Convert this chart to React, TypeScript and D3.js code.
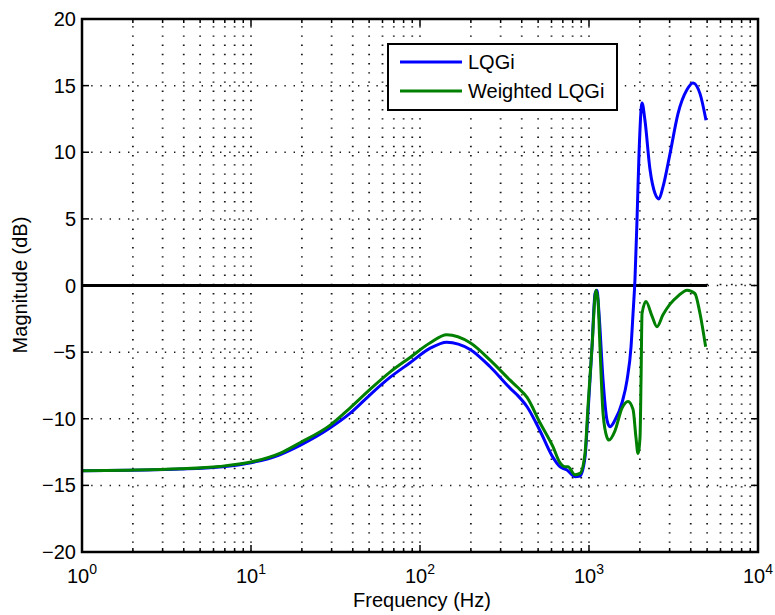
import React from "react";
import * as d3 from "d3";

const blueFreq = [1, 1.9, 3.8, 6.5, 10, 14.8, 19.5, 29.3, 38.5, 50.6, 66.4, 87.3, 115, 144, 198, 260, 341, 375, 430, 513, 612, 673, 741, 826, 885, 947, 986, 1042, 1086, 1115, 1146, 1211, 1278, 1331, 1425, 1568, 1679, 1773, 1822, 1870, 1923, 1977, 2060, 2143, 2296, 2459, 2594, 2740, 3016, 3363, 3803, 4125, 4537, 4925];
const blueDb = [-13.9, -13.87, -13.78, -13.62, -13.3, -12.7, -12.0, -10.7, -9.6, -8.2, -6.9, -5.8, -4.7, -4.25, -4.8, -6.1, -7.7, -8.2, -9.1, -10.9, -12.9, -13.6, -13.85, -14.35, -14.3, -12.9, -9.6, -4.6, -0.6, -0.35, -2.1, -7.1, -10.1, -10.6, -10.1, -8.8, -7.1, -4.6, -2.1, 0.4, 4.9, 9.9, 13.7, 12.4, 8.7, 6.9, 6.5, 7.4, 9.9, 12.9, 14.7, 15.2, 14.4, 12.4];

const greenFreq = [1, 1.9, 3.8, 6.5, 10, 14.8, 19.5, 29.3, 38.5, 50.6, 66.4, 87.3, 115, 144, 198, 260, 341, 375, 430, 513, 612, 673, 721, 751, 826, 885, 947, 986, 1042, 1099, 1130, 1161, 1211, 1278, 1313, 1425, 1568, 1702, 1822, 1896, 1949, 2004, 2032, 2060, 2173, 2360, 2525, 2740, 3016, 3363, 3803, 4230, 4537, 4900];
const greenDb = [-13.9, -13.86, -13.76, -13.58, -13.25, -12.6, -11.8, -10.5, -9.2, -7.8, -6.5, -5.4, -4.3, -3.7, -4.3, -5.6, -7.1, -7.6, -8.4, -10.3, -12.1, -13.3, -13.6, -13.6, -14.2, -14.1, -12.6, -9.1, -4.6, -0.35, -1.1, -4.6, -9.6, -11.4, -11.6, -10.9, -9.2, -8.7, -9.3, -11.4, -12.6, -11.4, -7.1, -2.1, -1.2, -2.3, -3.1, -2.2, -1.4, -0.8, -0.35, -0.6, -2.1, -4.6];

const zeroFreq = [1, 5000];
const zeroDb = [0, 0];

const xDecades = [1, 10, 100, 1000, 10000];
const xExponents = ["0", "1", "2", "3", "4"];
const yTicks = [-20, -15, -10, -5, 0, 5, 10, 15, 20];
const yTickLabels = ["\u221220", "\u221215", "\u221210", "\u22125", "0", "5", "10", "15", "20"];
const seriesNames = ["LQGi", "Weighted LQGi"];
const seriesColors = ["#0000ff", "#008000"];

const W = 775, H = 615;
const L = 82, R = 758, T = 19, B = 552;
const FONT = "'Liberation Sans', Arial, Helvetica, sans-serif";

export default function App() {
  const x = d3.scaleLog().domain([1, 10000]).range([L, R]);
  const y = d3.scaleLinear().domain([-20, 20]).range([B, T]);

  const minor: number[] = [];
  for (let d = 1; d < 10000; d *= 10) {
    for (let k = 2; k <= 9; k++) minor.push(d * k);
  }

  const line = d3
    .line<[number, number]>()
    .x((d) => x(d[0]))
    .y((d) => y(d[1]))
    .curve(d3.curveMonotoneX);

  const bluePts = blueFreq.map((f, i) => [f, blueDb[i]] as [number, number]);
  const greenPts = greenFreq.map((f, i) => [f, greenDb[i]] as [number, number]);
  const zeroPts = zeroFreq.map((f, i) => [f, zeroDb[i]] as [number, number]);

  const gridStyle = { stroke: "#000", strokeDasharray: "1.4,7.8", opacity: 0.9 };

  return (
    <svg width={W} height={H} style={{ position: "absolute", left: 0, top: 0, background: "#fff" }} fontFamily={FONT}>
      <rect x={0} y={0} width={W} height={H} fill="#fff" />
      <rect x={L} y={T} width={R - L} height={B - T} fill="#fff" />
      {/* grid */}
      {[...xDecades.slice(1, 4), ...minor].map((v, i) => (
        <line key={"vg" + i} x1={x(v)} x2={x(v)} y1={B} y2={T} {...gridStyle} strokeWidth={1.8} />
      ))}
      {yTicks.slice(1, -1).map((v, i) => (
        <line key={"hg" + i} x1={L} x2={R} y1={y(v)} y2={y(v)} {...gridStyle} strokeWidth={1.5} />
      ))}
      {/* data */}
      <path d={line(zeroPts) || ""} fill="none" stroke="#000" strokeWidth={3} />
      <path d={line(bluePts) || ""} fill="none" stroke={seriesColors[0]} strokeWidth={3} strokeLinejoin="round" />
      <path d={line(greenPts) || ""} fill="none" stroke={seriesColors[1]} strokeWidth={3} strokeLinejoin="round" />
      {/* ticks */}
      {xDecades.map((v, i) => (
        <g key={"xt" + i}>
          <line x1={x(v)} x2={x(v)} y1={B} y2={B - 7} stroke="#000" strokeWidth={1.5} />
          <line x1={x(v)} x2={x(v)} y1={T} y2={T + 7} stroke="#000" strokeWidth={1.5} />
        </g>
      ))}
      {minor.map((v, i) => (
        <g key={"xm" + i}>
          <line x1={x(v)} x2={x(v)} y1={B} y2={B - 4} stroke="#000" strokeWidth={1.5} />
          <line x1={x(v)} x2={x(v)} y1={T} y2={T + 4} stroke="#000" strokeWidth={1.5} />
        </g>
      ))}
      {yTicks.map((v, i) => (
        <g key={"yt" + i}>
          <line x1={L} x2={L + 7} y1={y(v)} y2={y(v)} stroke="#000" strokeWidth={1.5} />
          <line x1={R} x2={R - 7} y1={y(v)} y2={y(v)} stroke="#000" strokeWidth={1.5} />
        </g>
      ))}
      {/* axes box */}
      <rect x={L} y={T} width={R - L} height={B - T} fill="none" stroke="#000" strokeWidth={2.5} />
      {/* tick labels */}
      {yTicks.map((v, i) => (
        <text key={"yl" + i} x={76} y={y(v) + 7} textAnchor="end" fontSize={20} fill="#000">
          {yTickLabels[i]}
        </text>
      ))}
      {xDecades.map((v, i) => (
        <text key={"xl" + i} x={x(v)} y={583} textAnchor="middle" fontSize={20} fill="#000">
          10
          <tspan fontSize={14} dy={-9}>{xExponents[i]}</tspan>
        </text>
      ))}
      {/* axis labels */}
      <text x={422} y={607} textAnchor="middle" fontSize={20} fill="#000">Frequency (Hz)</text>
      <text transform={`translate(27,285) rotate(-90)`} textAnchor="middle" fontSize={20} fill="#000">Magnitude (dB)</text>
      {/* legend */}
      <rect x={388} y={44} width={229} height={66} fill="#fff" stroke="#000" strokeWidth={2} />
      {seriesNames.map((n, i) => (
        <g key={"lg" + i}>
          <line x1={400} x2={462} y1={62 + i * 29} y2={62 + i * 29} stroke={seriesColors[i]} strokeWidth={3} />
          <text x={468} y={69 + i * 29} fontSize={20} fill="#000">{n}</text>
        </g>
      ))}
    </svg>
  );
}
